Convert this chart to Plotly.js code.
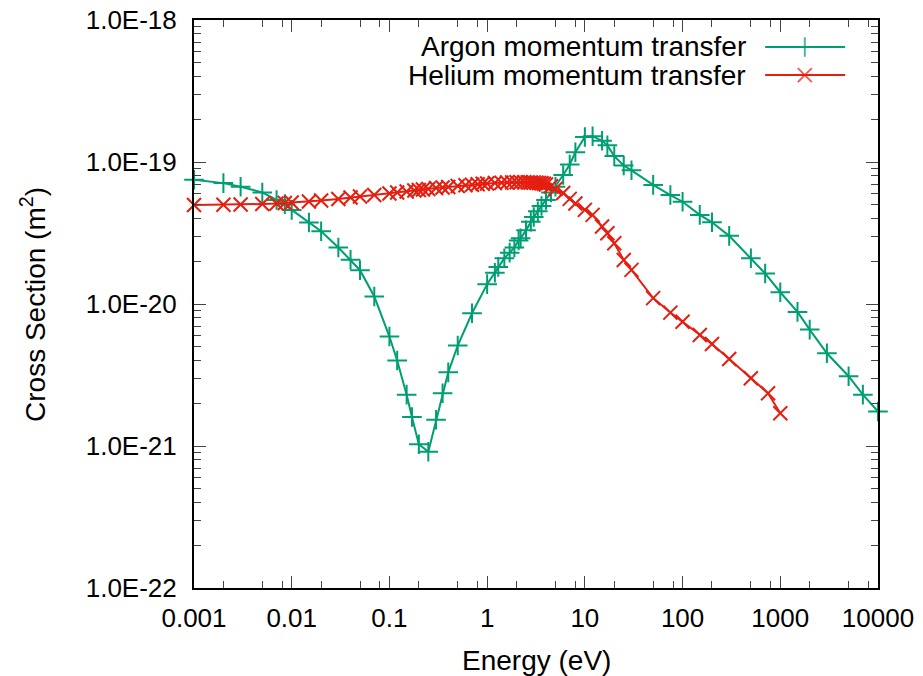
<!DOCTYPE html>
<html><head><meta charset="utf-8">
<script src="https://cdn.plot.ly/plotly-3.0.1.min.js"></script>
<style>html,body{margin:0;padding:0;background:#fff}#plot{width:923px;height:676px}</style>
</head><body><div id="plot"></div>
<script>
// Argon momentum transfer
const argonEnergy = [0.001,0.002,0.003,0.005,0.007,0.0085,0.01,0.015,0.02,0.03,0.04,0.05,0.07,0.1,0.12,0.15,0.17,0.2,0.25,0.3,0.35,0.4,0.5,0.7,1,1.2,1.3,1.5,1.7,1.9,2.1,2.2,2.5,2.8,3,3.3,3.6,4,4.5,5,6,7,8,10,12,15,17,20,25,30,50,75,100,150,200,300,500,700,1000,1500,2000,3000,5000,7000,10000];
const argonCross = [7.5e-20,7.1e-20,6.7e-20,6.1e-20,5.4e-20,5.05e-20,4.6e-20,3.75e-20,3.25e-20,2.5e-20,2.05e-20,1.73e-20,1.13e-20,5.9e-21,4.0e-21,2.3e-21,1.6e-21,1.03e-21,9.1e-22,1.53e-21,2.35e-21,3.3e-21,5.1e-21,8.6e-21,1.38e-20,1.66e-20,1.82e-20,2.1e-20,2.3e-20,2.5e-20,2.8e-20,2.9e-20,3.3e-20,3.8e-20,4.1e-20,4.5e-20,4.9e-20,5.4e-20,6.1e-20,6.7e-20,8.1e-20,9.6e-20,1.17e-19,1.5e-19,1.52e-19,1.41e-19,1.31e-19,1.1e-19,9.45e-20,8.74e-20,6.9e-20,5.85e-20,5.25e-20,4.24e-20,3.76e-20,3.02e-20,2.1e-20,1.64e-20,1.21e-20,8.8e-21,6.6e-21,4.5e-21,3.1e-21,2.3e-21,1.75e-21];
// Helium momentum transfer
const heliumEnergy = [0.001,0.002,0.003,0.005,0.007,0.0085,0.01,0.015,0.02,0.03,0.04,0.05,0.07,0.1,0.12,0.15,0.18,0.2,0.22,0.25,0.3,0.35,0.4,0.5,0.6,0.7,0.8,0.9,1.0,1.2,1.4,1.6,1.8,2.0,2.2,2.4,2.6,2.8,3.0,3.2,3.4,3.6,3.8,4.0,4.5,5,6,7,8,10,12,15,17,20,25,30,50,75,100,150,200,300,500,750,1000];
const heliumCross = [4.98e-20,5.0e-20,5.02e-20,5.06e-20,5.1e-20,5.14e-20,5.19e-20,5.27e-20,5.35e-20,5.49e-20,5.62e-20,5.72e-20,5.86e-20,6.0e-20,6.1e-20,6.2e-20,6.3e-20,6.35e-20,6.4e-20,6.45e-20,6.56e-20,6.61e-20,6.67e-20,6.78e-20,6.85e-20,6.92e-20,6.97e-20,7.02e-20,7.05e-20,7.11e-20,7.15e-20,7.17e-20,7.19e-20,7.2e-20,7.2e-20,7.2e-20,7.19e-20,7.18e-20,7.17e-20,7.15e-20,7.12e-20,7.08e-20,7.03e-20,6.95e-20,6.75e-20,6.45e-20,6.05e-20,5.5e-20,5.1e-20,4.6e-20,4.24e-20,3.51e-20,3.15e-20,2.68e-20,2.04e-20,1.74e-20,1.10e-20,8.7e-21,7.5e-21,6.05e-21,5.23e-21,4.1e-21,3.0e-21,2.35e-21,1.70e-21];

const xTickVals = [0.001,0.01,0.1,1,10,100,1000,10000];
const xTickText = ["0.001","0.01","0.1","1","10","100","1000","10000"];
const yTickVals = [1e-22,1e-21,1e-20,1e-19,1e-18];
const yTickText = ["1.0E-22","1.0E-21","1.0E-20","1.0E-19","1.0E-18"];
const seriesNames = ["Argon momentum transfer","Helium momentum transfer"];

const GREEN = '#009e73', RED = '#e51e10';
const FONT = 'Liberation Sans, Arial, sans-serif';

const xMinor = [];
for (let k=-3;k<4;k++){ [2,5,8].forEach(m=>xMinor.push(m*Math.pow(10,k))); }
const yMinor = [];
for (let k=-22;k<-18;k++){ [2,3,4,5,6,7,8,9].forEach(m=>yMinor.push(m*Math.pow(10,k))); }

const traces = [
  {x: argonEnergy, y: argonCross, mode:'lines+markers', name: seriesNames[0],
   line:{color:GREEN,width:2}, marker:{symbol:'cross-thin',size:14,line:{color:GREEN,width:2}},
   cliponaxis:false, showlegend:false},
  {x: heliumEnergy, y: heliumCross, mode:'lines+markers', name: seriesNames[1],
   line:{color:RED,width:2}, marker:{symbol:'x-thin',size:14,line:{color:RED,width:2}},
   cliponaxis:false, showlegend:false},
  // legend samples on a hidden overlay axis
  {x:[0.835,0.893,0.952], y:[0.9525,0.9525,0.9525], xaxis:'x2', yaxis:'y2', mode:'lines+markers',
   line:{color:GREEN,width:2}, marker:{symbol:'cross-thin',size:[0,14,0],line:{color:GREEN,width:2}},
   showlegend:false, hoverinfo:'skip', cliponaxis:false},
  {x:[0.835,0.893,0.952], y:[0.903,0.903,0.903], xaxis:'x2', yaxis:'y2', mode:'lines+markers',
   line:{color:RED,width:2}, marker:{symbol:'x-thin',size:[0,14,0],line:{color:RED,width:2}},
   showlegend:false, hoverinfo:'skip', cliponaxis:false}
];

const axisCommon = {
  showline:true, linecolor:'#000', linewidth:2, mirror:'allticks',
  ticks:'inside', ticklen:12, tickwidth:1, tickcolor:'#444',
  showgrid:false, zeroline:false,
  tickfont:{family:FONT,size:26,color:'#000'}
};

const layout = {
  width:923, height:676,
  margin:{l:194, r:45, t:20, b:88, pad:0},
  paper_bgcolor:'#fff', plot_bgcolor:'#fff',
  font:{family:FONT,size:26,color:'#000'},
  xaxis: Object.assign({}, axisCommon, {
    type:'log', range:[-3,4], tickmode:'array', tickvals:xTickVals, ticktext:xTickText,
    ticklabelstandoff:6,
    minor:{tickmode:'array', tickvals:xMinor, ticks:'inside', ticklen:7, tickwidth:1, tickcolor:'#444', showgrid:false}
  }),
  yaxis: Object.assign({}, axisCommon, {
    type:'log', range:[-22,-18], tickmode:'array', tickvals:yTickVals, ticktext:yTickText,
    ticklabelstandoff:10,
    minor:{tickmode:'array', tickvals:yMinor, ticks:'inside', ticklen:7, tickwidth:1, tickcolor:'#444', showgrid:false}
  }),
  xaxis2:{overlaying:'x', anchor:'y2', range:[0,1], visible:false, fixedrange:true},
  yaxis2:{overlaying:'y', anchor:'x2', range:[0,1], visible:false, fixedrange:true},
  showlegend:false,
  annotations:[
    {text:seriesNames[0], xref:'paper', yref:'paper', x:0.81, y:0.9525, xanchor:'right', yanchor:'middle', showarrow:false, font:{family:FONT,size:28}},
    {text:seriesNames[1], xref:'paper', yref:'paper', x:0.81, y:0.903, xanchor:'right', yanchor:'middle', showarrow:false, font:{family:FONT,size:28}},
    {text:'Energy (eV)', xref:'paper', yref:'paper', x:0.5, y:-0.1268, xanchor:'center', yanchor:'middle', showarrow:false, font:{family:FONT,size:28}},
    {text:'Cross Section (m<sup>2</sup>)', xref:'paper', yref:'paper', x:-0.2354, y:0.5, xanchor:'center', yanchor:'middle', textangle:-90, showarrow:false, font:{family:FONT,size:28}}
  ]
};

Plotly.newPlot('plot', traces, layout, {staticPlot:true, displayModeBar:false});
</script></body></html>
